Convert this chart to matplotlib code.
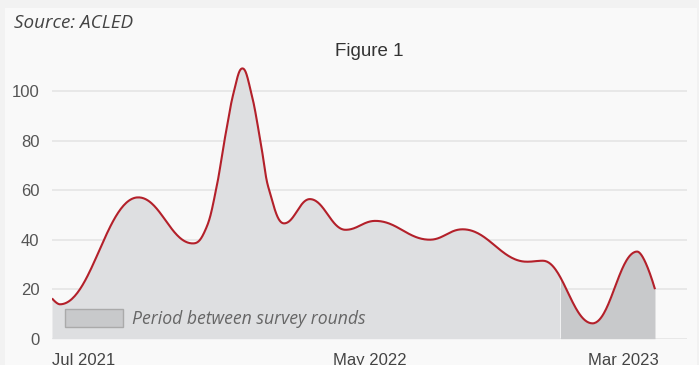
import matplotlib
matplotlib.use("Agg")
import matplotlib.pyplot as plt
import matplotlib.dates as mdates
from matplotlib.patches import Patch, Rectangle
import numpy as np
import pandas as pd

# event counts
dates = ["2021-07-01", "2021-07-09", "2021-09-26", "2021-11-20",
         "2021-12-04", "2021-12-14", "2021-12-22", "2021-12-31",
         "2022-01-09", "2022-01-18", "2022-01-27", "2022-02-04",
         "2022-02-20", "2022-03-18", "2022-04-23",
         "2022-05-23", "2022-07-17", "2022-08-19", "2022-10-23", "2022-11-08",
         "2022-12-28", "2023-02-11", "2023-03-01"]
events = [16.3, 13.9, 57.1, 38.5,
          45.2, 61.4, 80.3, 99.2,
          109.2, 99.2, 80.3, 61.4,
          46.6, 56.4, 44.0,
          47.6, 40.0, 44.2, 31.1, 31.5,
          6.2, 35.2, 20.0]

survey_gap_start = "2022-11-25"
tick_dates = ["2021-07-01", "2022-05-17", "2023-03-05"]
tick_labels = ["Jul 2021", "May 2022", "Mar 2023"]
yticks = [0, 20, 40, 60, 80, 100]


def spline(xs, ys, smoothing=1.5, n=60):
    # highcharts style spline through the points
    N = len(xs)
    lc = [(xs[0], ys[0])] * N
    rc = [(xs[0], ys[0])] * N
    for i in range(N):
        x, y = xs[i], ys[i]
        if i == 0 or i == N - 1:
            lc[i] = rc[i] = (x, y)
            continue
        lx, ly = xs[i - 1], ys[i - 1]
        nx, ny = xs[i + 1], ys[i + 1]
        d = smoothing + 1
        lcx = (smoothing * x + lx) / d
        lcy = (smoothing * y + ly) / d
        rcx = (smoothing * x + nx) / d
        rcy = (smoothing * y + ny) / d
        if rcx != lcx:
            corr = (rcy - lcy) * (rcx - x) / (rcx - lcx) + y - rcy
            lcy += corr
            rcy += corr
        if lcy > ly and lcy > y:
            lcy = max(ly, y); rcy = 2 * y - lcy
        elif lcy < ly and lcy < y:
            lcy = min(ly, y); rcy = 2 * y - lcy
        if rcy > ny and rcy > y:
            rcy = max(ny, y); lcy = 2 * y - rcy
        elif rcy < ny and rcy < y:
            rcy = min(ny, y); lcy = 2 * y - rcy
        lc[i] = (lcx, lcy)
        rc[i] = (rcx, rcy)
    outx, outy = [], []
    t = np.linspace(0, 1, n)
    for i in range(1, N):
        p0 = np.array([xs[i - 1], ys[i - 1]])
        p1 = np.array(rc[i - 1])
        p2 = np.array(lc[i])
        p3 = np.array([xs[i], ys[i]])
        seg = ((1 - t) ** 3)[:, None] * p0 + (3 * (1 - t) ** 2 * t)[:, None] * p1 \
            + (3 * (1 - t) * t ** 2)[:, None] * p2 + (t ** 3)[:, None] * p3
        if i > 1:
            seg = seg[1:]
        outx.extend(seg[:, 0])
        outy.extend(seg[:, 1])
    return np.array(outx), np.array(outy)


xnum = mdates.date2num(pd.to_datetime(dates))
sx, sy = spline(list(xnum), events)
zone = mdates.date2num(pd.Timestamp(survey_gap_start))

W, H = 699, 365
fig = plt.figure(figsize=(W / 100, H / 100), dpi=100, facecolor="#f2f2f2")
fig.patches.append(Rectangle((5 / W, 0), 692 / W, 357 / H, transform=fig.transFigure,
                             facecolor="#f9f9f9", edgecolor="none", zorder=-5))

ymax = 111
ax = fig.add_axes([52 / W, (H - 338.7) / H, (687 - 52) / W, ymax * 2.475 / H])
ax.set_facecolor("none")

xmax = xnum[0] + (687 - 52.3) * 608 / 602.7
ax.set_xlim(xnum[0], xmax)
ax.set_ylim(0, ymax)

light = "#dedfe1"
dark = "#c8c9cb"
ax.fill_between(sx, sy, 0, where=sx <= zone, color=light, lw=0, zorder=1)
ax.fill_between(sx, sy, 0, where=sx >= zone, color=dark, lw=0, zorder=1)
ax.plot(sx, sy, color="#b3202a", lw=1.5, zorder=3, solid_capstyle="butt")

for v in yticks:
    ax.axhline(v, color="#e4e4e4", lw=1.1, zorder=0.5)

for s in ax.spines.values():
    s.set_visible(False)

ax.set_yticks(yticks)
ax.tick_params(axis="y", length=0, pad=9, labelsize=12, labelcolor="#555555")
ax.set_xticks(mdates.date2num(pd.to_datetime(tick_dates)))
ax.set_xticklabels(tick_labels)
ax.tick_params(axis="x", length=0, pad=10, labelsize=12, labelcolor="#444444")
xl = ax.get_xticklabels()
xl[0].set_ha("left")
xl[-1].set_ha("right")
for lab in ax.get_xticklabels() + ax.get_yticklabels():
    lab.set_family("Liberation Sans")

fig.text(369.4 / W, 1 - 51.7 / H, "Figure 1", ha="center", va="center",
         fontsize=13.5, color="#333333", family="Liberation Sans")
fig.text(14 / W, 1 - 23 / H, "Source: ACLED", ha="left", va="center",
         fontsize=13.6, color="#444444", family="Open Sans", style="italic")

leg = ax.legend(handles=[Patch(facecolor=dark, edgecolor="#aaaaaa", lw=1)],
                labels=["Period between survey rounds"],
                loc="upper left", bbox_to_anchor=(65 / W, 1 - 309 / H),
                bbox_transform=fig.transFigure, frameon=False, borderpad=0,
                borderaxespad=0, handlelength=3.3, handleheight=1.15,
                handletextpad=0.5,
                prop={"family": "Open Sans", "style": "italic", "size": 12.7})
for t in leg.get_texts():
    t.set_color("#666666")

fig.savefig("out.png", dpi=100, facecolor=fig.get_facecolor())
